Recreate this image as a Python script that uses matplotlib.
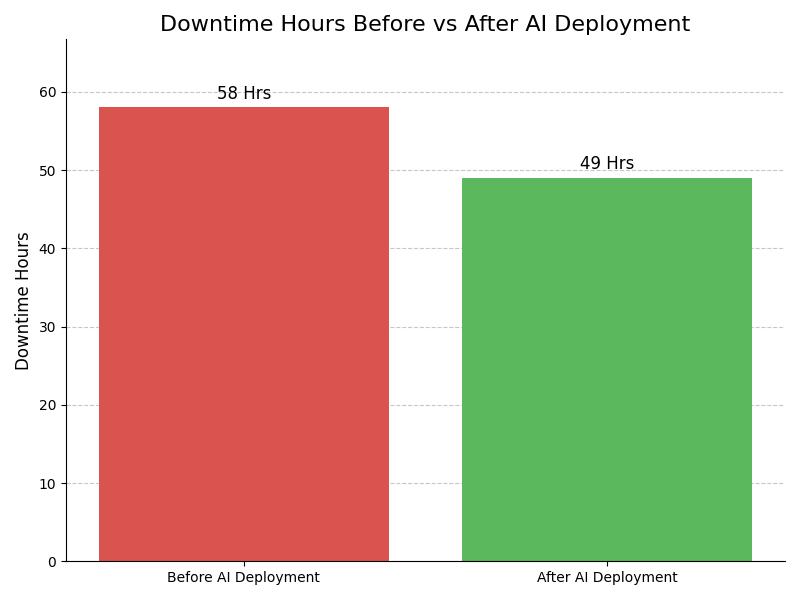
import matplotlib
matplotlib.use("Agg")
from matplotlib import pyplot as plt

stages = ["Before AI Deployment", "After AI Deployment"]
downtime = [58, 49]
bar_colors = ["#d9534f", "#5cb85c"]

fig, ax = plt.subplots(figsize=(8, 6), dpi=100)
bars = ax.bar(stages, downtime, color=bar_colors)

for bar, val in zip(bars, downtime):
    ax.text(bar.get_x() + bar.get_width() / 2, val + 0.6, f"{val} Hrs",
            ha="center", va="bottom", fontsize=12)

ax.set_ylim(0, max(downtime) * 1.15)
ax.set_title("Downtime Hours Before vs After AI Deployment", fontsize=16)
ax.set_ylabel("Downtime Hours", fontsize=12)
ax.grid(axis="y", linestyle="--", alpha=0.7)
ax.set_axisbelow(True)
ax.spines["top"].set_visible(False)
ax.spines["right"].set_visible(False)

fig.tight_layout()
fig.savefig("out.png")
